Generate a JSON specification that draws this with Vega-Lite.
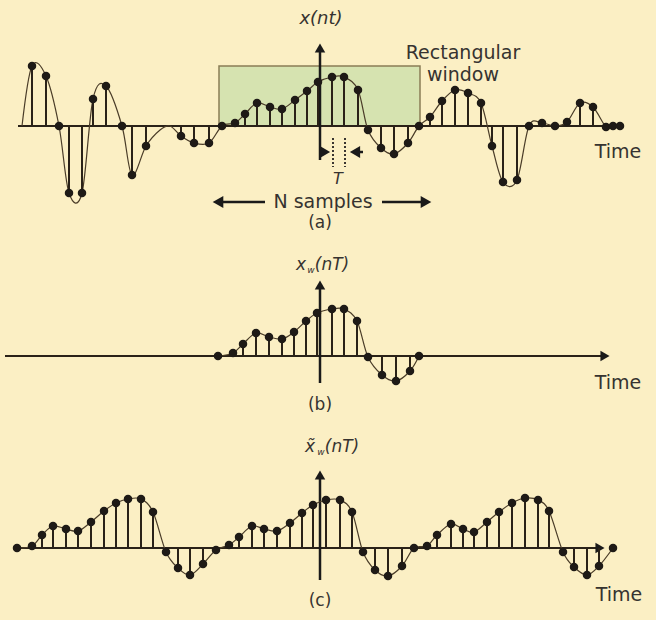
{
  "$schema": "https://vega.github.io/schema/vega-lite/v6.json",
  "background": "#FBEFC4",
  "padding": 0,
  "spacing": 0,
  "config": {"view": {"stroke": null}, "concat": {"spacing": 0}, "text": {"font": "DejaVu Sans", "color": "#363330"}},
  "datasets": {
    "sa": [
      {"t": 22, "a": 0, "dot": 0}, {"t": 32, "a": 60, "dot": 1}, {"t": 46, "a": 50, "dot": 1}, {"t": 59, "a": 0, "dot": 1},
      {"t": 69, "a": -67, "dot": 1}, {"t": 82, "a": -67, "dot": 1}, {"t": 93, "a": 27, "dot": 1}, {"t": 106, "a": 40, "dot": 1},
      {"t": 122, "a": 0, "dot": 1}, {"t": 132, "a": -49, "dot": 1}, {"t": 146, "a": -20, "dot": 1}, {"t": 160, "a": -4, "dot": 0},
      {"t": 170, "a": 0, "dot": 0}, {"t": 181, "a": -10, "dot": 1}, {"t": 194, "a": -17, "dot": 1}, {"t": 209, "a": -17, "dot": 1},
      {"t": 222, "a": 0, "dot": 1}, {"t": 235, "a": 3, "dot": 1}, {"t": 245, "a": 12, "dot": 1}, {"t": 257, "a": 23, "dot": 1},
      {"t": 270, "a": 19, "dot": 1}, {"t": 282, "a": 17, "dot": 1}, {"t": 295, "a": 26, "dot": 1}, {"t": 307, "a": 35, "dot": 1},
      {"t": 318, "a": 44, "dot": 1}, {"t": 332, "a": 49, "dot": 1}, {"t": 344, "a": 49, "dot": 1}, {"t": 358, "a": 36, "dot": 1},
      {"t": 368, "a": -4, "dot": 1}, {"t": 381, "a": -22, "dot": 1}, {"t": 394, "a": -28, "dot": 1}, {"t": 408, "a": -17, "dot": 1},
      {"t": 419, "a": 0, "dot": 1}, {"t": 430, "a": 9, "dot": 1}, {"t": 442, "a": 25, "dot": 1}, {"t": 455, "a": 36, "dot": 1},
      {"t": 468, "a": 33, "dot": 1}, {"t": 481, "a": 23, "dot": 1}, {"t": 492, "a": -20, "dot": 1}, {"t": 503, "a": -56, "dot": 1},
      {"t": 517, "a": -54, "dot": 1}, {"t": 529, "a": 0, "dot": 1}, {"t": 542, "a": 3, "dot": 1}, {"t": 555, "a": 0, "dot": 1},
      {"t": 567, "a": 4, "dot": 1}, {"t": 580, "a": 23, "dot": 1}, {"t": 593, "a": 19, "dot": 1}, {"t": 606, "a": -1, "dot": 1},
      {"t": 613, "a": 0, "dot": 1}, {"t": 620, "a": 0, "dot": 1}
    ],
    "sb": [
      {"t": 218, "a": 0}, {"t": 233, "a": 3}, {"t": 243, "a": 12}, {"t": 256, "a": 23}, {"t": 269, "a": 19}, {"t": 282, "a": 17},
      {"t": 294, "a": 24}, {"t": 306, "a": 35}, {"t": 317, "a": 43}, {"t": 332, "a": 47}, {"t": 344, "a": 47}, {"t": 357, "a": 35},
      {"t": 368, "a": -1}, {"t": 382, "a": -19}, {"t": 396, "a": -25}, {"t": 410, "a": -15}, {"t": 419, "a": 0}
    ],
    "sc": [
      {"t": 17, "a": 0}, {"t": 32, "a": 2}, {"t": 42, "a": 13}, {"t": 53, "a": 22}, {"t": 66, "a": 19}, {"t": 78, "a": 17},
      {"t": 91, "a": 26}, {"t": 104, "a": 37}, {"t": 116, "a": 45}, {"t": 128, "a": 49}, {"t": 141, "a": 49}, {"t": 153, "a": 36},
      {"t": 166, "a": -4}, {"t": 178, "a": -20}, {"t": 190, "a": -27}, {"t": 203, "a": -16}, {"t": 216, "a": -2}, {"t": 229, "a": 3},
      {"t": 239, "a": 11}, {"t": 252, "a": 22}, {"t": 264, "a": 19}, {"t": 277, "a": 17}, {"t": 290, "a": 25}, {"t": 302, "a": 35},
      {"t": 313, "a": 43}, {"t": 326, "a": 48}, {"t": 340, "a": 48}, {"t": 352, "a": 36}, {"t": 363, "a": -4}, {"t": 375, "a": -22},
      {"t": 388, "a": -28}, {"t": 402, "a": -18}, {"t": 414, "a": 0}, {"t": 427, "a": 2}, {"t": 437, "a": 13}, {"t": 451, "a": 24},
      {"t": 463, "a": 19}, {"t": 474, "a": 16}, {"t": 487, "a": 26}, {"t": 499, "a": 36}, {"t": 512, "a": 45}, {"t": 525, "a": 50},
      {"t": 538, "a": 48}, {"t": 549, "a": 37}, {"t": 563, "a": -4}, {"t": 574, "a": -19}, {"t": 587, "a": -27}, {"t": 599, "a": -18},
      {"t": 613, "a": 0}
    ]
  },
  "vconcat": [
    {
      "width": 656, "height": 235,
      "encoding": {
        "x": {"field": "t", "type": "quantitative", "scale": {"domain": [0, 656], "nice": false, "zero": false}, "axis": null},
        "y": {"field": "a", "type": "quantitative", "scale": {"domain": [-109, 126], "nice": false, "zero": false}, "axis": null}
      },
      "layer": [
        {"data": {"values": [{}]}, "mark": {"type": "rule", "color": "#A8A080", "strokeWidth": 2}, "encoding": {"x": {"datum": 0}, "x2": {"datum": 656}, "y": {"datum": 125.5}}},
        {"data": {"values": [{}]}, "mark": {"type": "rule", "color": "#4A4840", "strokeWidth": 3}, "encoding": {"x": {"datum": 1.5}, "y": {"datum": 126}, "y2": {"datum": -109}}},
        {"data": {"values": [{}]}, "mark": {"type": "rule", "color": "#000000", "strokeWidth": 4.5}, "encoding": {"x": {"datum": 2.2}, "y": {"datum": 126}, "y2": {"datum": 113}}},
        {"data": {"values": [{"t": 219, "t2": 420, "a": 0, "a2": 60}]}, "mark": {"type": "rect", "fill": "#D6E3B0", "stroke": "#8B7D55", "strokeWidth": 1.5}, "encoding": {"x2": {"field": "t2"}, "y2": {"field": "a2"}}},
        {"data": {"values": [{"t": 18, "t2": 622, "a": 0}]}, "mark": {"type": "rule", "color": "#2a2218", "strokeWidth": 2}, "encoding": {"x2": {"field": "t2"}}},
        {"data": {"values": [{"t": 320, "a": -34, "a2": 78}]}, "mark": {"type": "rule", "color": "#1a1a1a", "strokeWidth": 2.5}, "encoding": {"y2": {"field": "a2"}}},
        {"data": {"values": [{"t": 320, "a": 78}]}, "mark": {"type": "point", "shape": "triangle-up", "filled": true, "size": 110, "color": "#1a1a1a", "opacity": 1}},
        {"data": {"name": "sa"}, "mark": {"type": "line", "interpolate": "cardinal", "color": "#4a3c28", "strokeWidth": 1.2}},
        {"data": {"name": "sa"}, "transform": [{"filter": "datum.dot == 1"}], "mark": {"type": "rule", "color": "#2a2218", "strokeWidth": 2}, "encoding": {"y2": {"datum": 0}}},
        {"data": {"name": "sa"}, "transform": [{"filter": "datum.dot == 1"}], "mark": {"type": "point", "filled": true, "size": 72, "color": "#1e1a16", "opacity": 1}},
        {"data": {"values": [{"t": 333, "a": -12, "a2": -41}, {"t": 345, "a": -12, "a2": -41}]}, "mark": {"type": "rule", "color": "#3a3530", "strokeWidth": 2, "strokeDash": [2, 2]}, "encoding": {"y2": {"field": "a2"}}},
        {"data": {"values": [{"t": 325, "a": -26}]}, "mark": {"type": "point", "shape": "triangle-right", "filled": true, "size": 140, "color": "#1a1a1a", "opacity": 1}},
        {"data": {"values": [{"t": 355, "a": -26}]}, "mark": {"type": "point", "shape": "triangle-left", "filled": true, "size": 140, "color": "#1a1a1a", "opacity": 1}},
        {"data": {"values": [{"t": 218, "a": -76}]}, "mark": {"type": "point", "shape": "triangle-left", "filled": true, "size": 150, "color": "#1a1a1a", "opacity": 1}},
        {"data": {"values": [{"t": 426, "a": -76}]}, "mark": {"type": "point", "shape": "triangle-right", "filled": true, "size": 150, "color": "#1a1a1a", "opacity": 1}},
        {"data": {"values": [{"t": 355, "t2": 363, "a": -26}, {"t": 222, "t2": 265, "a": -76}, {"t": 382, "t2": 422, "a": -76}]}, "mark": {"type": "rule", "color": "#1a1a1a", "strokeWidth": 2.5}, "encoding": {"x2": {"field": "t2"}}},
        {"data": {"values": [{"t": 321, "a": 107, "label": "x(nt)"}]}, "mark": {"type": "text", "fontSize": 18, "fontStyle": "italic"}, "encoding": {"text": {"field": "label"}}},
        {"data": {"values": [{"t": 338, "a": -53, "label": "T"}]}, "mark": {"type": "text", "fontSize": 16, "fontStyle": "italic"}, "encoding": {"text": {"field": "label"}}},
        {"data": {"values": [{"t": 463, "a": 73, "label": "Rectangular"}, {"t": 463, "a": 51, "label": "window"}, {"t": 618, "a": -26, "label": "Time"}, {"t": 323, "a": -76, "label": "N samples"}]}, "mark": {"type": "text", "fontSize": 19}, "encoding": {"text": {"field": "label"}}},
        {"data": {"values": [{"t": 320, "a": -97, "label": "(a)"}]}, "mark": {"type": "text", "fontSize": 17}, "encoding": {"text": {"field": "label"}}}
      ]
    },
    {
      "width": 656, "height": 180,
      "encoding": {
        "x": {"field": "t", "type": "quantitative", "scale": {"domain": [0, 656], "nice": false, "zero": false}, "axis": null},
        "y": {"field": "a", "type": "quantitative", "scale": {"domain": [-59, 121], "nice": false, "zero": false}, "axis": null}
      },
      "layer": [
        {"data": {"values": [{}]}, "mark": {"type": "rule", "color": "#4A4840", "strokeWidth": 3}, "encoding": {"x": {"datum": 1.5}, "y": {"datum": 121}, "y2": {"datum": -59}}},
        {"data": {"values": [{"t": 5, "t2": 603, "a": 0}]}, "mark": {"type": "rule", "color": "#2a2218", "strokeWidth": 2}, "encoding": {"x2": {"field": "t2"}}},
        {"data": {"values": [{"t": 605, "a": 0}]}, "mark": {"type": "point", "shape": "triangle-right", "filled": true, "size": 110, "color": "#1a1a1a", "opacity": 1}},
        {"data": {"values": [{"t": 320, "a": -27, "a2": 71}]}, "mark": {"type": "rule", "color": "#1a1a1a", "strokeWidth": 2.5}, "encoding": {"y2": {"field": "a2"}}},
        {"data": {"values": [{"t": 320, "a": 71}]}, "mark": {"type": "point", "shape": "triangle-up", "filled": true, "size": 110, "color": "#1a1a1a", "opacity": 1}},
        {"data": {"name": "sb"}, "mark": {"type": "line", "interpolate": "cardinal", "color": "#4a3c28", "strokeWidth": 1.2}},
        {"data": {"name": "sb"}, "mark": {"type": "rule", "color": "#2a2218", "strokeWidth": 2}, "encoding": {"y2": {"datum": 0}}},
        {"data": {"name": "sb"}, "mark": {"type": "point", "filled": true, "size": 72, "color": "#1e1a16", "opacity": 1}},
        {"data": {"values": [{"t": 301, "a": 91, "label": "x"}, {"t": 332, "a": 91, "label": "(nT)"}]}, "mark": {"type": "text", "fontSize": 17, "fontStyle": "italic"}, "encoding": {"text": {"field": "label"}}},
        {"data": {"values": [{"t": 311, "a": 86, "label": "w"}]}, "mark": {"type": "text", "fontSize": 9, "fontStyle": "italic"}, "encoding": {"text": {"field": "label"}}},
        {"data": {"values": [{"t": 618, "a": -27, "label": "Time"}]}, "mark": {"type": "text", "fontSize": 19}, "encoding": {"text": {"field": "label"}}},
        {"data": {"values": [{"t": 320, "a": -49, "label": "(b)"}]}, "mark": {"type": "text", "fontSize": 17}, "encoding": {"text": {"field": "label"}}}
      ]
    },
    {
      "width": 656, "height": 205,
      "encoding": {
        "x": {"field": "t", "type": "quantitative", "scale": {"domain": [0, 656], "nice": false, "zero": false}, "axis": null},
        "y": {"field": "a", "type": "quantitative", "scale": {"domain": [-72, 133], "nice": false, "zero": false}, "axis": null}
      },
      "layer": [
        {"data": {"values": [{}]}, "mark": {"type": "rule", "color": "#4A4840", "strokeWidth": 3}, "encoding": {"x": {"datum": 1.5}, "y": {"datum": 133}, "y2": {"datum": -72}}},
        {"data": {"values": [{"t": 15, "t2": 598, "a": 0}]}, "mark": {"type": "rule", "color": "#2a2218", "strokeWidth": 2}, "encoding": {"x2": {"field": "t2"}}},
        {"data": {"values": [{"t": 600, "a": 0}]}, "mark": {"type": "point", "shape": "triangle-right", "filled": true, "size": 110, "color": "#1a1a1a", "opacity": 1}},
        {"data": {"values": [{"t": 320, "a": -32, "a2": 73}]}, "mark": {"type": "rule", "color": "#1a1a1a", "strokeWidth": 2.5}, "encoding": {"y2": {"field": "a2"}}},
        {"data": {"values": [{"t": 320, "a": 73}]}, "mark": {"type": "point", "shape": "triangle-up", "filled": true, "size": 110, "color": "#1a1a1a", "opacity": 1}},
        {"data": {"name": "sc"}, "mark": {"type": "line", "interpolate": "cardinal", "color": "#4a3c28", "strokeWidth": 1.2}},
        {"data": {"name": "sc"}, "mark": {"type": "rule", "color": "#2a2218", "strokeWidth": 2}, "encoding": {"y2": {"datum": 0}}},
        {"data": {"name": "sc"}, "mark": {"type": "point", "filled": true, "size": 72, "color": "#1e1a16", "opacity": 1}},
        {"data": {"values": [{"t": 310, "a": 101, "label": "x̃"}, {"t": 342, "a": 101, "label": "(nT)"}]}, "mark": {"type": "text", "fontSize": 17, "fontStyle": "italic"}, "encoding": {"text": {"field": "label"}}},
        {"data": {"values": [{"t": 321, "a": 96, "label": "w"}]}, "mark": {"type": "text", "fontSize": 9, "fontStyle": "italic"}, "encoding": {"text": {"field": "label"}}},
        {"data": {"values": [{"t": 619, "a": -47, "label": "Time"}]}, "mark": {"type": "text", "fontSize": 19}, "encoding": {"text": {"field": "label"}}},
        {"data": {"values": [{"t": 320, "a": -53, "label": "(c)"}]}, "mark": {"type": "text", "fontSize": 17}, "encoding": {"text": {"field": "label"}}}
      ]
    }
  ]
}
